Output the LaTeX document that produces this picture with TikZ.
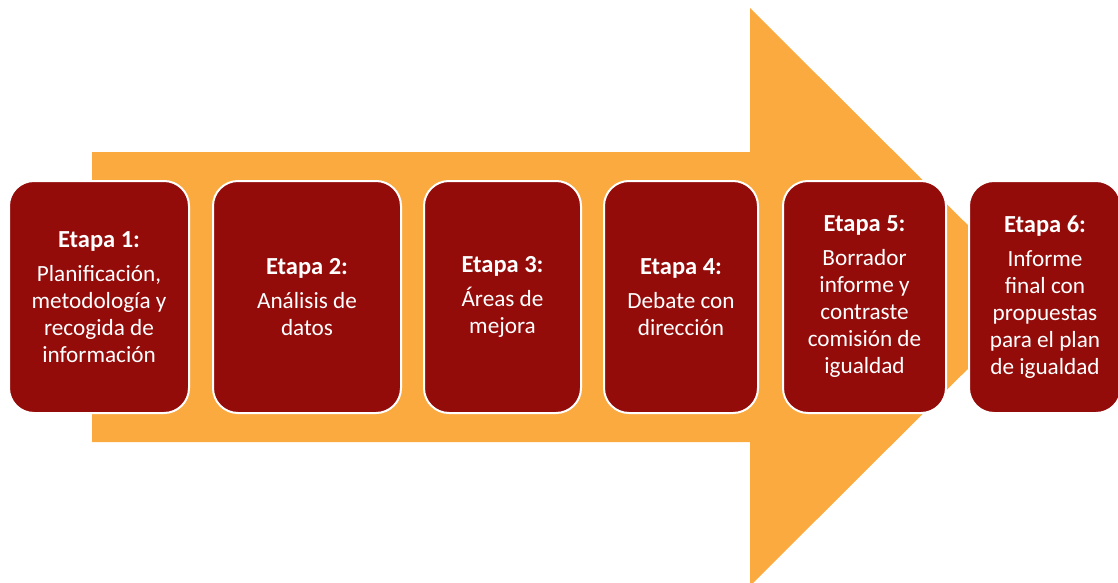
\documentclass[tikz,border=0pt]{standalone}
\usepackage{fontspec}
\setmainfont{Carlito}
\usepackage{tikz}

\definecolor{flecha}{RGB}{251,170,64}
\definecolor{granate}{RGB}{148,12,10}

\newcommand{\titulo}[1]{{\fontsize{24.5}{27}\selectfont\bfseries #1}}

\tikzset{
  etapa/.style={draw=white, line width=2pt, fill=granate, text=white,
    rounded corners=25pt, anchor=north west, minimum height=232pt,
    align=center, inner sep=0pt,
    font=\fontsize{23.2}{27}\selectfont}
}

\begin{document}
\begin{tikzpicture}[x=1pt,y=-1pt]
\useasboundingbox (0,0) rectangle (1118,583);
\fill[flecha] (92,152) -- (750,152) -- (750,8) -- (1040,297)
  -- (750,586) -- (750,442) -- (92,442) -- cycle;
\node[etapa, minimum width=180pt] (e1) at (8,180)
  {\titulo{Etapa 1:}\\[7pt] Planificación,\\ metodología y\\ recogida de\\ información};
\node[etapa, minimum width=188pt] (e2) at (212,180)
  {\titulo{Etapa 2:}\\[7pt] Análisis de\\ datos};
\node[etapa, minimum width=157pt] (e3) at (423,180)
  {\titulo{Etapa 3:}\\[7pt] Áreas de\\ mejora};
\node[etapa, minimum width=154pt] (e4) at (603,180)
  {\titulo{Etapa 4:}\\[7pt] Debate con\\ dirección};
\node[etapa, minimum width=163pt] (e5) at (782,180)
  {\titulo{Etapa 5:}\\[7pt] Borrador\\ informe y\\ contraste\\ comisión de\\ igualdad};
\node[etapa, minimum width=152pt] (e6) at (968,180)
  {\titulo{Etapa 6:}\\[7pt] Informe\\ final con\\ propuestas\\ para el plan\\ de igualdad};
\end{tikzpicture}
\end{document}
